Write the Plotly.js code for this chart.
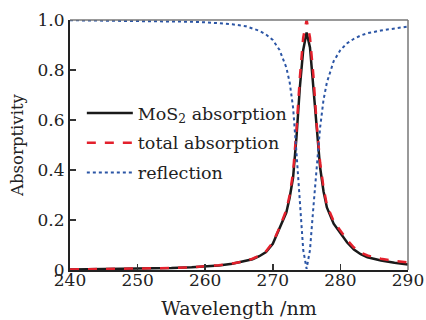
<!DOCTYPE html>
<html>
<head>
<meta charset="utf-8">
<script src="https://cdn.plot.ly/plotly-3.0.1.min.js"></script>
<style>html,body{margin:0;padding:0;background:#fff;}#chart{width:426px;height:320px;}</style>
</head>
<body>
<div id="chart"></div>
<script>
var wavelength = [240, 245, 250, 255, 258, 260, 262, 264, 266, 267, 268, 269, 270, 271, 272, 272.5, 273, 273.5, 274, 274.5, 275, 275.5, 276, 276.5, 277, 277.5, 278, 279, 280, 281, 282, 283, 284, 286, 288, 290];
var totalAbsorption = [0.002, 0.003, 0.005, 0.008, 0.011, 0.014, 0.019, 0.026, 0.036, 0.045, 0.057, 0.075, 0.11, 0.17, 0.24, 0.30, 0.39, 0.56, 0.77, 0.93, 1.0, 0.93, 0.78, 0.58, 0.43, 0.33, 0.26, 0.195, 0.155, 0.12, 0.09, 0.07, 0.058, 0.045, 0.036, 0.03];
var mos2Absorption = [0.002, 0.003, 0.005, 0.008, 0.011, 0.014, 0.018, 0.025, 0.035, 0.043, 0.055, 0.072, 0.105, 0.165, 0.23, 0.29, 0.37, 0.53, 0.73, 0.88, 0.95, 0.89, 0.74, 0.56, 0.41, 0.315, 0.25, 0.185, 0.145, 0.11, 0.082, 0.063, 0.051, 0.038, 0.029, 0.022];
var reflection = [0.999, 0.998, 0.997, 0.995, 0.993, 0.991, 0.988, 0.983, 0.975, 0.967, 0.957, 0.942, 0.92, 0.88, 0.81, 0.75, 0.65, 0.47, 0.26, 0.08, 0.005, 0.08, 0.25, 0.42, 0.57, 0.68, 0.75, 0.835, 0.88, 0.907, 0.925, 0.938, 0.947, 0.958, 0.967, 0.974];
var xTicks = [240, 250, 260, 270, 280, 290];
var yTicks = [0, 0.2, 0.4, 0.6, 0.8, 1.0];
var yTickText = ["0", "0.2", "0.4", "0.6", "0.8", "1.0"];

var font = "DejaVu Serif, Liberation Serif, serif";
var traces = [
  {x: wavelength, y: mos2Absorption, mode: "lines", name: "MoS<sub>2</sub> absorption", legendgroup: "a",
   line: {color: "#1a1a1a", width: 2.5}},
  {x: wavelength, y: totalAbsorption, mode: "lines", name: "total absorption", legendgroup: "b",
   line: {color: "#e3202c", width: 2.5, dash: "dash"}},
  {x: wavelength, y: reflection, mode: "lines", name: "reflection", legendgroup: "c",
   line: {color: "#2b55a5", width: 2, dash: "dot"}}
];
var layout = {
  width: 426, height: 320,
  margin: {l: 70, r: 18, t: 20, b: 50},
  paper_bgcolor: "#fff", plot_bgcolor: "#fff",
  font: {family: font, size: 17, color: "#222"},
  showlegend: true,
  legend: {x: 0.035, y: 0.70, xanchor: "left", yanchor: "top", bgcolor: "rgba(0,0,0,0)",
           itemwidth: 46, tracegroupgap: 4,
           font: {family: font, size: 17.5, color: "#222"}},
  xaxis: {range: [240, 290], tickvals: xTicks, ticks: "inside", ticklen: 6, tickwidth: 1.5,
          tickcolor: "#333", showgrid: false, zeroline: false, showline: true, ticklabelstandoff: -6,
          linecolor: "#222", linewidth: 2, tickfont: {family: font, size: 17, color: "#222"},
          title: {text: "Wavelength /nm", font: {family: font, size: 19, color: "#222"}, standoff: 12}},
  yaxis: {range: [0, 1.0], tickvals: yTicks, ticktext: yTickText, ticks: "inside", ticklen: 6,
          tickwidth: 1.5, tickcolor: "#333", showgrid: false, zeroline: false, showline: true,
          linecolor: "#222", linewidth: 2, tickfont: {family: font, size: 17, color: "#222"},
          title: {text: "Absorptivity", font: {family: font, size: 16.5, color: "#222"}, standoff: 10}},
  shapes: [
    {type: "line", xref: "paper", yref: "paper", x0: 0, x1: 1, y0: 1, y1: 1, line: {color: "#777", width: 1.5}},
    {type: "line", xref: "paper", yref: "paper", x0: 1, x1: 1, y0: 0, y1: 1, line: {color: "#777", width: 1.5}}
  ]
};
Plotly.newPlot("chart", traces, layout, {displayModeBar: false, staticPlot: true});
</script>
</body>
</html>
